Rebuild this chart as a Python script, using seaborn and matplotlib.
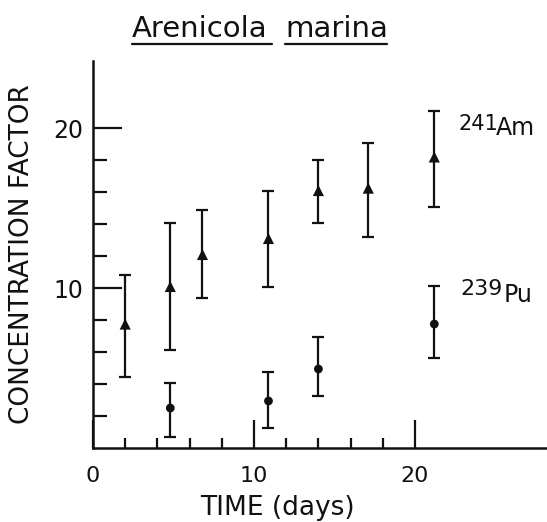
import matplotlib
matplotlib.use("Agg")
import matplotlib.pyplot as plt
from matplotlib.lines import Line2D
import seaborn as sns
import pandas as pd

# ---- data ----
am_days = [2.0, 4.8, 6.8, 10.9, 14.0, 17.1, 21.2]
am_cf = [7.75, 10.1, 12.1, 13.1, 16.1, 16.25, 18.2]
am_lo = [4.44, 6.1, 9.4, 10.05, 14.06, 13.2, 15.06]
am_hi = [10.8, 14.06, 14.9, 16.1, 18.0, 19.06, 21.1]

pu_days = [4.8, 10.9, 14.0, 21.2]
pu_cf = [2.5, 2.94, 4.94, 7.75]
pu_lo = [0.7, 1.25, 3.25, 5.6]
pu_hi = [4.06, 4.75, 6.94, 10.1]

x_major = [0, 10, 20]
x_labels = ["0", "10", "20"]
x_minor = [2, 4, 6, 8, 12, 14, 16, 18]
y_major = [10, 20]
y_labels = ["10", "20"]
y_minor = [2, 4, 6, 8, 12, 14, 16, 18]

am = pd.DataFrame({"days": am_days, "cf": am_cf, "lo": am_lo, "hi": am_hi})
pu = pd.DataFrame({"days": pu_days, "cf": pu_cf, "lo": pu_lo, "hi": pu_hi})

sns.set_style("ticks")
plt.rcParams["font.family"] = ["DejaVu Sans"]

fig = plt.figure(figsize=(5.47, 5.22), dpi=100)
ax = fig.add_axes([93 / 547, 74 / 522, 454 / 547, 387 / 522])

ink = "#111111"
for df, mk, s in ((am, "^", 64), (pu, "o", 40)):
    ax.errorbar(df["days"], df["cf"],
                yerr=[df["cf"] - df["lo"], df["hi"] - df["cf"]],
                fmt="none", ecolor=ink, elinewidth=1.6, capsize=4.5,
                capthick=1.6, zorder=2)
    sns.scatterplot(data=df, x="days", y="cf", marker=mk, s=s, color=ink,
                    edgecolor="none", ax=ax, zorder=3, legend=False)

ax.set_xlim(0, 28.2)
ax.set_ylim(0, 24.2)

ax.set_xticks(x_major)
ax.set_xticklabels(x_labels)
ax.set_xticks(x_minor, minor=True)
ax.set_yticks(y_major)
ax.set_yticklabels(y_labels)
ax.set_yticks(y_minor, minor=True)

ax.tick_params(axis="x", which="major", direction="in", length=20, width=1.6,
               pad=13, labelsize=16, colors=ink)
ax.tick_params(axis="x", which="minor", direction="in", length=7.5, width=1.6,
               colors=ink)
ax.tick_params(axis="y", which="major", direction="in", length=21, width=1.6,
               pad=7, labelsize=17, colors=ink)
ax.tick_params(axis="y", which="minor", direction="in", length=10, width=1.6,
               colors=ink)

for side in ("top", "right"):
    ax.spines[side].set_visible(False)
for side in ("left", "bottom"):
    ax.spines[side].set_linewidth(1.8)
    ax.spines[side].set_color(ink)

ax.set_xlabel("TIME (days)", fontsize=19, color=ink)
ax.xaxis.set_label_coords(0.407, -0.122)
ax.set_ylabel("CONCENTRATION FACTOR", fontsize=19, color=ink)
ax.yaxis.set_label_coords(-0.128, 0.5)

# isotope labels
ax.annotate("241", xy=(21.2, 20.0), xytext=(24, -2), textcoords="offset pixels",
            fontsize=15, color=ink, va="baseline", ha="left")
ax.annotate("Am", xy=(21.2, 20.0), xytext=(62, -7), textcoords="offset pixels",
            fontsize=17, color=ink, va="baseline", ha="left")
ax.annotate("239", xy=(21.2, 10.0), xytext=(26, -7), textcoords="offset pixels",
            fontsize=16, color=ink, va="baseline", ha="left")
ax.annotate("Pu", xy=(21.2, 10.0), xytext=(69, -14), textcoords="offset pixels",
            fontsize=17, color=ink, va="baseline", ha="left")

# underlined title
fig.text(132 / 547, 1 - 37 / 522, "Arenicola", fontsize=21, color=ink,
         ha="left", va="baseline")
fig.text(285 / 547, 1 - 37 / 522, "marina", fontsize=21, color=ink,
         ha="left", va="baseline")
fig.add_artist(Line2D([132 / 547, 272 / 547], [1 - 44 / 522] * 2,
                      transform=fig.transFigure, color=ink, lw=1.6))
fig.add_artist(Line2D([285 / 547, 387 / 547], [1 - 44 / 522] * 2,
                      transform=fig.transFigure, color=ink, lw=1.6))

fig.savefig("out.png", dpi=100, facecolor="white")
